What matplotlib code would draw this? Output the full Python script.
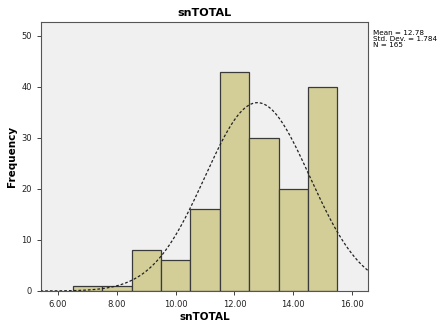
import numpy as np
import matplotlib
matplotlib.use("Agg")
import matplotlib.pyplot as plt

bin_edges = [6.5, 7.5, 8.5, 9.5, 10.5, 11.5, 12.5, 13.5, 14.5, 15.5]
counts = [1, 1, 8, 6, 16, 43, 30, 20, 40]
mean, sd, n = 12.78, 1.784, 165
xticks = [6, 8, 10, 12, 14, 16]
yticks = [0, 10, 20, 30, 40, 50]

fig = plt.figure(figsize=(4.42, 3.25), dpi=100)
ax = fig.add_axes([41/442, 34/325, 327/442, 269/325])
ax.set_facecolor("#F0F0F0")
lefts = bin_edges[:-1]
widths = np.diff(bin_edges)
ax.bar(lefts, counts, width=widths, align="edge", color="#D3CE98",
       edgecolor="#3a3a3a", linewidth=0.9, zorder=2)
xs = np.linspace(5.4, 16.6, 300)
binw = widths[0]
ys = n * binw / (sd * np.sqrt(2 * np.pi)) * np.exp(-0.5 * ((xs - mean) / sd) ** 2)
ax.plot(xs, ys, color="#222222", linestyle=(0, (2.2, 1.6)), linewidth=0.9, zorder=3)
ax.set_xlim(5.42, 16.54)
ax.set_ylim(0, 52.7)
ax.set_xticks(xticks)
ax.set_xticklabels([f"{v:.2f}" for v in xticks])
ax.set_yticks(yticks)
ax.tick_params(labelsize=6, length=3, width=0.6, colors="#222222")
for s in ax.spines.values():
    s.set_color("#555555")
    s.set_linewidth(0.8)
ax.set_title("snTOTAL", fontsize=8, fontweight="bold", pad=4)
ax.set_xlabel("snTOTAL", fontsize=7.5, fontweight="bold", labelpad=2)
ax.set_ylabel("Frequency", fontsize=7.5, fontweight="bold", labelpad=3)
fig.text(373/442, 1 - 48/325, f"Mean = {mean}\nStd. Dev. = {sd}\nN = {n}",
         fontsize=5.2, va="bottom", ha="left", linespacing=1.0)
fig.savefig("out.png", dpi=100)
